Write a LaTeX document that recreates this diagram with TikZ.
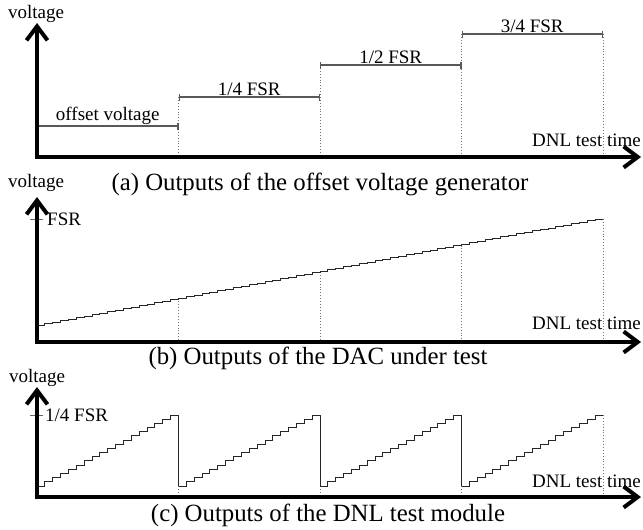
\documentclass[tikz,border=0pt]{standalone}
\usepackage{fontspec}
\setmainfont{Liberation Serif}
\usetikzlibrary{arrows.meta}

\begin{document}
\begin{tikzpicture}[x=1pt, y=-1pt,
    axis/.style = {line width=4pt, line join=miter, {Straight Barb[length=14pt,width=21pt]}-{Straight Barb[length=14pt,width=21pt]}},
    stair/.style = {line width=0.9pt, black!85},
    spanline/.style = {line width=1.1pt, black!65},
    guide/.style = {line width=0.9pt, black!55, dotted},
    vtick/.style = {line width=1pt, black!60},
    lbl/.style = {inner sep=1pt, text=black, font=\fontsize{19}{21}\selectfont},
    capt/.style = {inner sep=0pt, font=\fontsize{24.8}{28}\selectfont}]
    \useasboundingbox (0,0) rectangle (643,530);

    % (a) offset voltage generator
    \coordinate (oA) at (37,157);
    \coordinate (yA) at (37,23);
    \coordinate (xA) at (641,157);
    \foreach \x/\y in {178.5/97, 320/65, 461.5/34, 603/34}
        \draw[guide] (\x,\y) -- (\x,157);
    \draw[spanline, -{Bar[width=7pt]}] (37,126) -- (178.5,126) node[lbl, midway, above] (offA) {offset voltage};
    \draw[spanline, {Bar[width=7pt]}-{Bar[width=7pt]}] (178.5,97) -- (320,97) node[lbl, midway, above] (qA) {1/4 FSR};
    \draw[spanline, {Bar[width=7pt]}-{Bar[width=7pt]}] (320,65) -- (461.5,65) node[lbl, midway, above] (hA) {1/2 FSR};
    \draw[spanline, {Bar[width=7pt]}-{Bar[width=7pt]}] (461.5,34) -- (603,34) node[lbl, midway, above] (tqA) {3/4 FSR};
    \draw[axis] (yA) -- (oA) -- (xA);
    \node[lbl] (voltA) at (36,14) {voltage};
    \node[lbl, anchor=east] (timeA) at (642,140) {DNL test time};
    \node[capt] (capA) at (320,184) {(a) Outputs of the offset voltage generator};

    % (b) DAC under test
    \coordinate (oB) at (37,342);
    \coordinate (yB) at (37,197);
    \coordinate (xB) at (641,342);
    \foreach \x in {178.5, 320, 461.5, 603}
        \draw[guide] (\x,{325-(\x-37)/566*106}) -- (\x,342);
    \draw[stair] (37,325) \foreach \i in {1,...,71}{ -- ++(7.861,0) -- ++(0,-1.493)} -- ++(7.861,0);
    \draw[vtick] (30,219) -- (43,219);
    \draw[axis] (yB) -- (oB) -- (xB);
    \node[lbl] (voltB) at (36,183) {voltage};
    \node[lbl, anchor=west, inner sep=0pt] (fsrB) at (47,219) {FSR};
    \node[lbl, anchor=east] (timeB) at (642,323) {DNL test time};
    \node[capt] (capB) at (318,358) {(b) Outputs of the DAC under test};

    % (c) DNL test module
    \coordinate (oC) at (37,497);
    \coordinate (yC) at (37,387);
    \coordinate (xC) at (641,497);
    \foreach \x in {178.5, 320, 461.5}
        \draw[guide] (\x,486) -- (\x,497);
    \draw[guide] (603,415) -- (603,497);
    \foreach \k in {0,...,3}
        \draw[stair] ({37+141.5*\k},486) \foreach \j in {1,...,17}{ -- ++(7.861,0) -- ++(0,-4.176)} -- ++(7.861,0);
    \foreach \x in {178.5, 320, 461.5}
        \draw[stair] (\x,415) -- (\x,486);
    \draw[vtick] (30,415) -- (43,415);
    \draw[axis] (yC) -- (oC) -- (xC);
    \node[lbl] (voltC) at (37,378) {voltage};
    \node[lbl, anchor=west, inner sep=0pt] (fsrC) at (45,415) {1/4 FSR};
    \node[lbl, anchor=east] (timeC) at (642,481) {DNL test time};
    \node[capt] (capC) at (328,515) {(c) Outputs of the DNL test module};
\end{tikzpicture}
\end{document}
